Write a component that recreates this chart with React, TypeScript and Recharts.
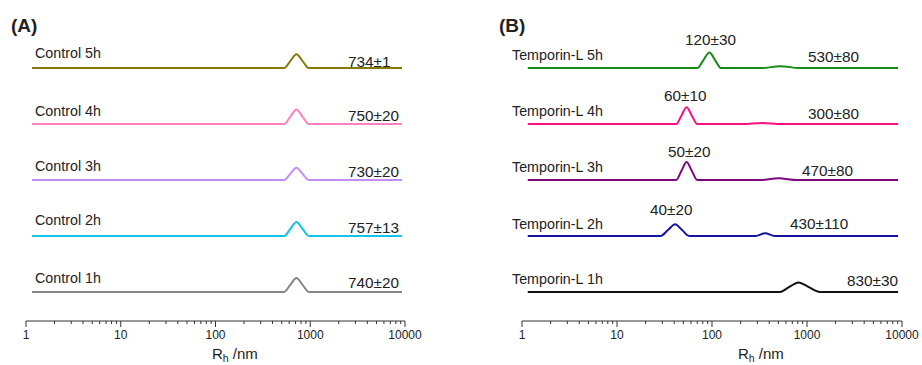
import { LineChart, Line, XAxis, YAxis } from "recharts";

const FONT = '"Liberation Sans", Arial, sans-serif';

// x axis (hydrodynamic radius, nm)
const majorTicks = [1, 10, 100, 1000, 10000];
const minorTicks = [
  2, 3, 4, 5, 6, 7, 8, 9,
  20, 30, 40, 50, 60, 70, 80, 90,
  200, 300, 400, 500, 600, 700, 800, 900,
  2000, 3000, 4000, 5000, 6000, 7000, 8000, 9000,
];

// panel A - control
const controlLabels = ["Control 5h", "Control 4h", "Control 3h", "Control 2h", "Control 1h"];
const controlValues = ["734±1", "750±20", "730±20", "757±13", "740±20"];
const controlColors = ["#857a05", "#ff80c0", "#c48cf5", "#12c3ea", "#858585"];
const controlRadius = [1.16, 530, 615, 715, 830, 965, 9300];
const control5h = [0, 0, 0.125, 0.25, 0.125, 0, 0];
const control4h = [0, 0, 0.13, 0.26, 0.13, 0, 0];
const control3h = [0, 0, 0.11, 0.22, 0.11, 0, 0];
const control2h = [0, 0, 0.125, 0.25, 0.125, 0, 0];
const control1h = [0, 0, 0.125, 0.25, 0.125, 0, 0];

// panel B - Temporin-L
const tempLabels = ["Temporin-L 5h", "Temporin-L 4h", "Temporin-L 3h", "Temporin-L 2h", "Temporin-L 1h"];
const tempPeakValues = ["120±30", "60±10", "50±20", "40±20"];
const tempValues = ["530±80", "300±80", "470±80", "430±110", "830±30"];
const tempColors = ["#188a18", "#ff1080", "#7e087e", "#1414a0", "#111111"];
const temp5hRadius = [1.15, 70, 81, 94, 108, 125, 330, 525, 830, 9100];
const temp5h = [0, 0, 0.14, 0.28, 0.14, 0, 0, 0.035, 0, 0];
const temp4hRadius = [1.15, 42, 47.6, 54, 61.4, 70, 210, 334, 530, 9100];
const temp4h = [0, 0, 0.15, 0.3, 0.15, 0, 0, 0.02, 0, 0];
const temp3hRadius = [1.15, 42, 47.6, 54, 61.4, 70, 315, 500, 790, 9100];
const temp3h = [0, 0, 0.16, 0.32, 0.16, 0, 0, 0.03, 0, 0];
const temp2hRadius = [1.15, 28.8, 34.3, 41, 48.4, 57.5, 288, 363, 457, 9100];
const temp2h = [0, 0, 0.105, 0.21, 0.105, 0, 0, 0.05, 0, 0];
const temp1hRadius = [1.15, 519, 646, 815, 1047, 1370, 9100];
const temp1h = [0, 0, 0.085, 0.17, 0.085, 0, 0];

// each trace is stacked one unit above the previous (1h at the bottom)
const toSeries = (xs: number[], ys: number[], offset: number) =>
  xs.map((x, i) => ({ x, y: ys[i] + offset }));

const controlSeries = [control5h, control4h, control3h, control2h, control1h].map((ys, i) =>
  toSeries(controlRadius, ys, 4 - i)
);
const tempSeries = [
  toSeries(temp5hRadius, temp5h, 4),
  toSeries(temp4hRadius, temp4h, 3),
  toSeries(temp3hRadius, temp3h, 2),
  toSeries(temp2hRadius, temp2h, 1),
  toSeries(temp1hRadius, temp1h, 0),
];

function LogTick({ x, y, payload }: any) {
  const v = payload.value;
  const major = majorTicks.includes(v);
  return (
    <g>
      <line x1={x} x2={x} y1={y} y2={y + (major ? 6 : 3)} stroke="#333" strokeWidth={1} />
      {major && (
        <text x={x} y={y + 18} textAnchor="middle" fontSize={12} fill="#222" fontFamily={FONT}>
          {v}
        </text>
      )}
    </g>
  );
}

function Panel({ series, colors, left, right }: { series: { x: number; y: number }[][]; colors: string[]; left: number; right: number }) {
  return (
    <LineChart width={461} height={365} margin={{ top: 20, right, bottom: 0, left }}>
      <XAxis
        dataKey="x"
        type="number"
        scale="log"
        domain={[1, 10000]}
        allowDataOverflow
        ticks={[...majorTicks, ...minorTicks]}
        interval={0}
        tickSize={0}
        tickMargin={0}
        tickLine={false}
        tick={<LogTick />}
        axisLine={{ stroke: "#333", strokeWidth: 1 }}
        height={44}
      />
      <YAxis hide type="number" domain={[-0.52, 4.86]} allowDataOverflow />
      {series.map((d, i) => (
        <Line
          key={i}
          data={d}
          dataKey="y"
          type="monotone"
          stroke={colors[i]}
          strokeWidth={2}
          dot={false}
          activeDot={false}
          isAnimationActive={false}
        />
      ))}
    </LineChart>
  );
}

const textStyle = { fontFamily: FONT, fill: "#222" };

export default function App() {
  const labelBaseA = [58, 116, 171, 225, 283];
  const valueBaseA = [66.5, 120.5, 177, 233, 288];
  const labelBaseB = [60, 116, 172, 228.5, 284];
  const valueBaseB = [62, 119, 175.5, 229, 285.5];
  const valueXB = [808, 808, 802, 790, 847];
  const peakBaseB = [45, 101, 157, 215];
  const peakXB = [685, 664, 668, 650];
  return (
    <div style={{ position: "absolute", left: 0, top: 0, width: 922, height: 365, background: "#fff" }}>
      <div style={{ position: "absolute", left: 0, top: 0 }}>
        <Panel series={controlSeries} colors={controlColors} left={26} right={56} />
      </div>
      <div style={{ position: "absolute", left: 461, top: 0 }}>
        <Panel series={tempSeries} colors={tempColors} left={61} right={20} />
      </div>
      <svg width={922} height={365} style={{ position: "absolute", left: 0, top: 0, pointerEvents: "none" }}>
        <text x={11} y={32} fontSize={19} fontWeight="bold" {...textStyle}>(A)</text>
        <text x={499} y={32} fontSize={19} fontWeight="bold" {...textStyle}>(B)</text>
        {controlLabels.map((t, i) => (
          <text key={t} x={35} y={labelBaseA[i]} fontSize={14.3} {...textStyle}>{t}</text>
        ))}
        {controlValues.map((t, i) => (
          <text key={t} x={348} y={valueBaseA[i]} fontSize={15.3} {...textStyle}>{t}</text>
        ))}
        {tempLabels.map((t, i) => (
          <text key={t} x={512} y={labelBaseB[i]} fontSize={14.3} {...textStyle}>{t}</text>
        ))}
        {tempValues.map((t, i) => (
          <text key={t} x={valueXB[i]} y={valueBaseB[i]} fontSize={15.3} {...textStyle}>{t}</text>
        ))}
        {tempPeakValues.map((t, i) => (
          <text key={t} x={peakXB[i]} y={peakBaseB[i]} fontSize={15.3} {...textStyle}>{t}</text>
        ))}
        <text x={212} y={359} fontSize={15} {...textStyle}>
          R<tspan fontSize={10.5} dy={2.5}>h</tspan><tspan dy={-2.5}> /nm</tspan>
        </text>
        <text x={738} y={359} fontSize={15} {...textStyle}>
          R<tspan fontSize={10.5} dy={2.5}>h</tspan><tspan dy={-2.5}> /nm</tspan>
        </text>
      </svg>
    </div>
  );
}
